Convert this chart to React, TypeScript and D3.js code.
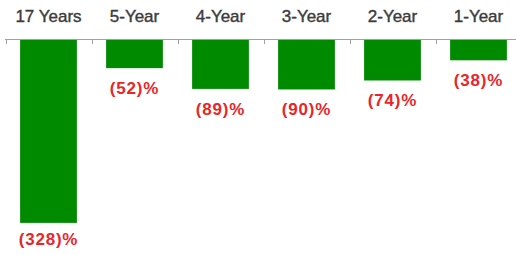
import { useEffect, useRef } from "react";
import * as d3 from "d3";

const categories = ["17 Years", "5-Year", "4-Year", "3-Year", "2-Year", "1-Year"];
const values = [-328, -52, -89, -90, -74, -38];
const valueLabels = ["(328)%", "(52)%", "(89)%", "(90)%", "(74)%", "(38)%"];

const W = 516;
const H = 255;

export default function App() {
  const svgRef = useRef<SVGSVGElement | null>(null);

  useEffect(() => {
    if (!svgRef.current) return;
    const svg = d3.select(svgRef.current);
    svg.selectAll("*").remove();

    const axisY = 39;
    const x = d3
      .scaleBand<string>()
      .domain(categories)
      .range([5.5, 521.5])
      .paddingInner(0.34)
      .paddingOuter(0.17);
    const y = d3.scaleLinear().domain([0, -330]).range([axisY, 224]);

    svg
      .append("rect")
      .attr("width", W)
      .attr("height", H)
      .attr("fill", "#fff");

    // bars
    svg
      .selectAll(".bar")
      .data(values)
      .enter()
      .append("rect")
      .attr("class", "bar")
      .attr("x", (_d, i) => x(categories[i]) ?? 0)
      .attr("y", y(0))
      .attr("width", x.bandwidth())
      .attr("height", (d) => y(d) - y(0))
      .attr("fill", "#008a00");

    // axis line + ticks at band boundaries
    svg
      .append("line")
      .attr("x1", 5)
      .attr("x2", W)
      .attr("y1", axisY + 0.5)
      .attr("y2", axisY + 0.5)
      .attr("stroke", "#a0a0a0")
      .attr("stroke-width", 1);

    const step = x.step();
    const left = (x(categories[0]) ?? 0) - step * 0.17;
    svg
      .selectAll(".tick")
      .data(categories)
      .enter()
      .append("line")
      .attr("class", "tick")
      .attr("x1", (_d, i) => Math.round(left + i * step) + 0.5)
      .attr("x2", (_d, i) => Math.round(left + i * step) + 0.5)
      .attr("y1", axisY)
      .attr("y2", axisY + 5)
      .attr("stroke", "#a0a0a0");

    // category labels
    svg
      .selectAll(".cat")
      .data(categories)
      .enter()
      .append("text")
      .attr("class", "cat")
      .attr("x", (d) => (x(d) ?? 0) + x.bandwidth() / 2)
      .attr("y", 22)
      .attr("text-anchor", "middle")
      .attr("font-family", "'Liberation Sans', Arial, sans-serif")
      .attr("font-size", 17)
      .attr("fill", "#3c3c3c")
      .attr("stroke", "#3c3c3c")
      .attr("stroke-width", 0.4)
      .text((d) => d);

    // value labels
    svg
      .selectAll(".val")
      .data(values)
      .enter()
      .append("text")
      .attr("class", "val")
      .attr("x", (_d, i) => (x(categories[i]) ?? 0) + x.bandwidth() / 2)
      .attr("y", (d) => Math.min(y(d) + 26, 245))
      .attr("text-anchor", "middle")
      .attr("font-family", "'Liberation Sans', Arial, sans-serif")
      .attr("font-size", 17)
      .attr("font-weight", "bold")
      .attr("letter-spacing", 0.8)
      .attr("fill", "#e8262a")
      .text((_d, i) => valueLabels[i]);
  }, []);

  return (
    <svg
      ref={svgRef}
      width={W}
      height={H}
      style={{ position: "absolute", left: 0, top: 0 }}
    />
  );
}
